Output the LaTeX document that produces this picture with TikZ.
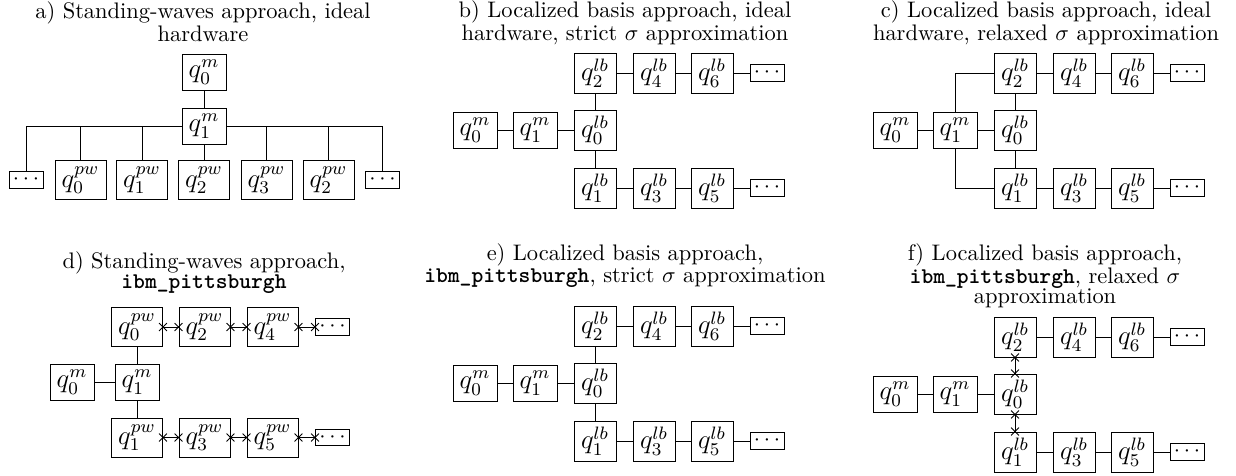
\documentclass[tikz,border=0pt]{standalone}
\usetikzlibrary{shapes.misc}
\tikzset{
 bx/.style={draw, inner sep=0pt, fill=white, font=\large},
 mbox/.style={bx, minimum width=19.6pt, minimum height=16pt},
 pwbox/.style={bx, minimum width=22.7pt, minimum height=17.4pt},
 lbbox/.style={bx, minimum width=18.7pt, minimum height=17.8pt},
 dotbox/.style={bx, font=\normalsize, minimum width=15.1pt, minimum height=7.3pt},
 xm/.style={cross out, draw, minimum size=3.1pt, inner sep=0pt},
 ttl/.style={align=center, inner sep=0pt, anchor=north, font=\fontsize{10pt}{8.9pt}\selectfont},
}
\newcommand\xlink[3]{%
 \draw (#1) -- (#2);
 \node[xm] (#3a) at (#1) {};
 \node[xm] (#3b) at (#2) {};}
\newcommand\lbnodes[1]{%
 \node[mbox] (#1m0) at (475,130) {$q_0^m$};
 \node[mbox] (#1m1) at (535,130) {$q_1^m$};
 \node[lbbox] (#1l0) at (595,130) {$q_0^{lb}$};
 \node[lbbox] (#1l2) at (595,73) {$q_2^{lb}$};
 \node[lbbox] (#1l4) at (654,73) {$q_4^{lb}$};
 \node[lbbox] (#1l6) at (712,73) {$q_6^{lb}$};
 \node[dotbox] (#1dt) at (767,73) {$\cdots$};
 \node[lbbox] (#1l1) at (595,188) {$q_1^{lb}$};
 \node[lbbox] (#1l3) at (654,188) {$q_3^{lb}$};
 \node[lbbox] (#1l5) at (712,188) {$q_5^{lb}$};
 \node[dotbox] (#1db) at (767,188) {$\cdots$};
 \draw (#1m0) -- (#1m1);
 \draw (#1m1) -- (#1l0);
 \draw (#1l2) -- (#1l4);
 \draw (#1l4) -- (#1l6);
 \draw (#1l6) -- (#1dt);
 \draw (#1l1) -- (#1l3);
 \draw (#1l3) -- (#1l5);
 \draw (#1l5) -- (#1db);
}
\begin{document}
\begin{tikzpicture}[x=0.445pt, y=-0.445pt]
\useasboundingbox (0,0) rectangle (1236,476);
% titles
\node[ttl] (ta) at (203,1) {a) Standing-waves approach, ideal\\hardware};
\node[ttl] (tb) at (625,0) {b) Localized basis approach, ideal\\hardware, strict $\sigma$ approximation};
\node[ttl] (tc) at (1046,0) {c) Localized basis approach, ideal\\hardware, relaxed $\sigma$ approximation};
\node[ttl] (td) at (204,251) {d) Standing-waves approach,\\\texttt{\textbf{ibm\_pittsburgh}}};
\node[ttl] (te) at (625,243) {e) Localized basis approach,\\\texttt{\textbf{ibm\_pittsburgh}}, strict $\sigma$ approximation};
\node[ttl] (tf) at (1045,243) {f) Localized basis approach,\\\texttt{\textbf{ibm\_pittsburgh}}, relaxed $\sigma$\\approximation};
% panel a
\node[mbox] (a0m) at (204,72) {$q_0^m$};
\node[mbox] (a1m) at (204,126) {$q_1^m$};
\node[dotbox] (adL) at (26,180) {$\cdots$};
\node[pwbox] (apw0) at (80.5,180) {$q_0^{pw}$};
\node[pwbox] (apw1) at (142,180) {$q_1^{pw}$};
\node[pwbox] (apw2) at (204,180) {$q_2^{pw}$};
\node[pwbox] (apw3) at (266.5,180) {$q_3^{pw}$};
\node[pwbox] (apw4) at (328.5,180) {$q_2^{pw}$};
\node[dotbox] (adR) at (382.5,180) {$\cdots$};
\draw (a0m) -- (a1m);
\draw (a1m) -- (apw2);
\foreach \n in {adL,apw0,apw1,apw3,apw4,adR} \draw (a1m) -| (\n.north);
% panel b
\lbnodes{b}
\draw (bl2) -- (bl0);
\draw (bl0) -- (bl1);
% panel c
\begin{scope}[shift={(420,0)}]
\lbnodes{c}
\draw (cl2) -- (cl0);
\draw (cl0) -- (cl1);
\draw (cm1) |- (cl2);
\draw (cm1) |- (cl1);
\end{scope}
% panel d
\node[pwbox] (dp0) at (137,327) {$q_0^{pw}$};
\node[pwbox] (dp2) at (204.5,327) {$q_2^{pw}$};
\node[pwbox] (dp4) at (272.5,327) {$q_4^{pw}$};
\node[dotbox] (ddt) at (332.5,327) {$\cdots$};
\node[mbox] (dm0) at (72,382) {$q_0^m$};
\node[mbox] (dm1) at (137,382) {$q_1^m$};
\node[pwbox] (dp1) at (137,437.5) {$q_1^{pw}$};
\node[pwbox] (dp3) at (204.5,437.5) {$q_3^{pw}$};
\node[pwbox] (dp5) at (272.5,437.5) {$q_5^{pw}$};
\node[dotbox] (ddb) at (332.5,437.5) {$\cdots$};
\draw (dm0) -- (dm1);
\draw (dm1) -- (dp0);
\draw (dm1) -- (dp1);
\xlink{dp0.east}{dp2.west}{dxa}
\xlink{dp2.east}{dp4.west}{dxb}
\xlink{dp4.east}{ddt.west}{dxc}
\xlink{dp1.east}{dp3.west}{dxd}
\xlink{dp3.east}{dp5.west}{dxe}
\xlink{dp5.east}{ddb.west}{dxf}
% panel e
\begin{scope}[shift={(0,253)}]
\lbnodes{e}
\draw (el2) -- (el0);
\draw (el0) -- (el1);
\end{scope}
% panel f
\begin{scope}[shift={(420,264)}]
\lbnodes{f}
\xlink{fl2.south}{fl0.north}{fxa}
\xlink{fl0.south}{fl1.north}{fxb}
\end{scope}
\end{tikzpicture}
\end{document}
